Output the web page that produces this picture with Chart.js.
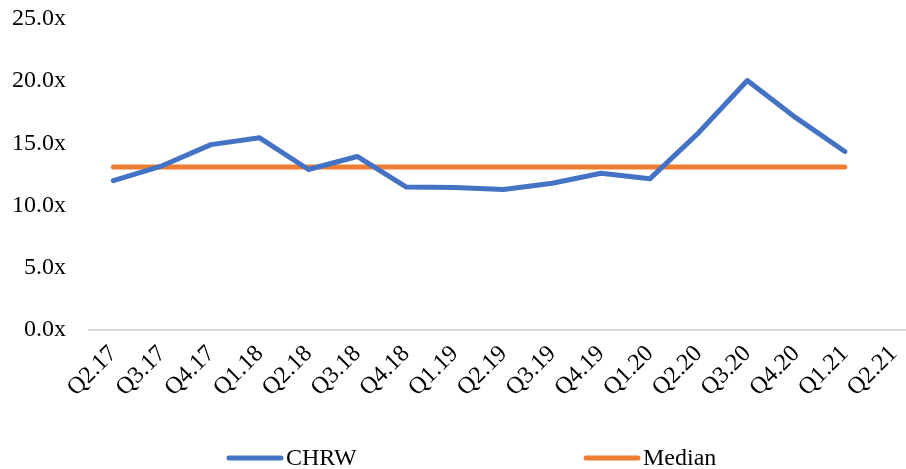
<!DOCTYPE html>
<html>
<head>
<meta charset="utf-8">
<script src="https://cdn.jsdelivr.net/npm/chart.js@4"></script>
<style>
  html, body { margin: 0; padding: 0; overflow: hidden; background: #fff; }
  #wrap { width: 918px; height: 469px; position: relative; }
</style>
</head>
<body>
<div id="wrap"><canvas id="c"></canvas></div>
<script>
const categories = ['Q2.17','Q3.17','Q4.17','Q1.18','Q2.18','Q3.18','Q4.18','Q1.19','Q2.19','Q3.19','Q4.19','Q1.20','Q2.20','Q3.20','Q4.20','Q1.21','Q2.21'];
const chrwValues = [12.0, 13.2, 14.9, 15.45, 12.9, 13.95, 11.5, 11.45, 11.3, 11.8, 12.6, 12.15, 15.85, 20.05, 17.05, 14.35, null];
const medianValues = [13.1, 13.1, 13.1, 13.1, 13.1, 13.1, 13.1, 13.1, 13.1, 13.1, 13.1, 13.1, 13.1, 13.1, 13.1, 13.1, null];
const seriesNames = ['CHRW', 'Median'];
const seriesColors = ['#4472C4', '#ED7D31'];

const FONT = '"Liberation Serif", "Times New Roman", serif';

const customLegend = {
  id: 'customLegend',
  afterDraw(chart) {
    const ctx = chart.ctx;
    const starts = [227, 584];
    const y = 458;
    ctx.save();
    ctx.font = '24px ' + FONT;
    ctx.textBaseline = 'middle';
    ctx.textAlign = 'left';
    chart.data.datasets.forEach((ds, i) => {
      const x = starts[i];
      ctx.strokeStyle = ds.borderColor;
      ctx.lineWidth = 5;
      ctx.lineCap = 'round';
      ctx.beginPath();
      ctx.moveTo(x + 2, y);
      ctx.lineTo(x + 54, y);
      ctx.stroke();
      ctx.fillStyle = '#000';
      ctx.fillText(ds.label, x + 59, y + 1);
    });
    ctx.restore();
  }
};

new Chart(document.getElementById('c'), {
  type: 'line',
  data: {
    labels: categories,
    datasets: [
      {
        label: seriesNames[0],
        data: chrwValues,
        borderColor: seriesColors[0],
        backgroundColor: seriesColors[0],
        borderWidth: 5,
        pointRadius: 0,
        tension: 0,
        borderCapStyle: 'round',
        borderJoinStyle: 'round',
        spanGaps: false
      },
      {
        label: seriesNames[1],
        data: medianValues,
        borderColor: seriesColors[1],
        backgroundColor: seriesColors[1],
        borderWidth: 5,
        pointRadius: 0,
        tension: 0,
        borderCapStyle: 'round',
        borderJoinStyle: 'round'
      }
    ]
  },
  options: {
    responsive: true,
    maintainAspectRatio: false,
    animation: false,
    layout: { padding: { top: 19, bottom: 59, left: 0, right: 0 } },
    plugins: {
      legend: { display: false },
      tooltip: { enabled: false }
    },
    scales: {
      x: {
        offset: true,
        grid: { display: false, drawTicks: false },
        border: { display: true, color: '#d9d9d9', width: 2 },
        ticks: {
          color: '#000',
          font: { family: FONT, size: 24 },
          minRotation: 45,
          maxRotation: 45,
          padding: 10,
          autoSkip: false
        },
        afterFit(scale) { scale.height = 80; scale.paddingLeft = 0; scale.paddingRight = 0; }
      },
      y: {
        min: 0,
        max: 25,
        grid: { display: false, drawTicks: false },
        border: { display: false },
        ticks: {
          stepSize: 5,
          color: '#000',
          font: { family: FONT, size: 24 },
          padding: 23,
          callback: (v) => Number(v).toFixed(1) + 'x'
        },
        afterFit(scale) { scale.width = 89; scale.paddingTop = 0; scale.paddingBottom = 0; }
      }
    }
  },
  plugins: [customLegend]
});
</script>
</body>
</html>
